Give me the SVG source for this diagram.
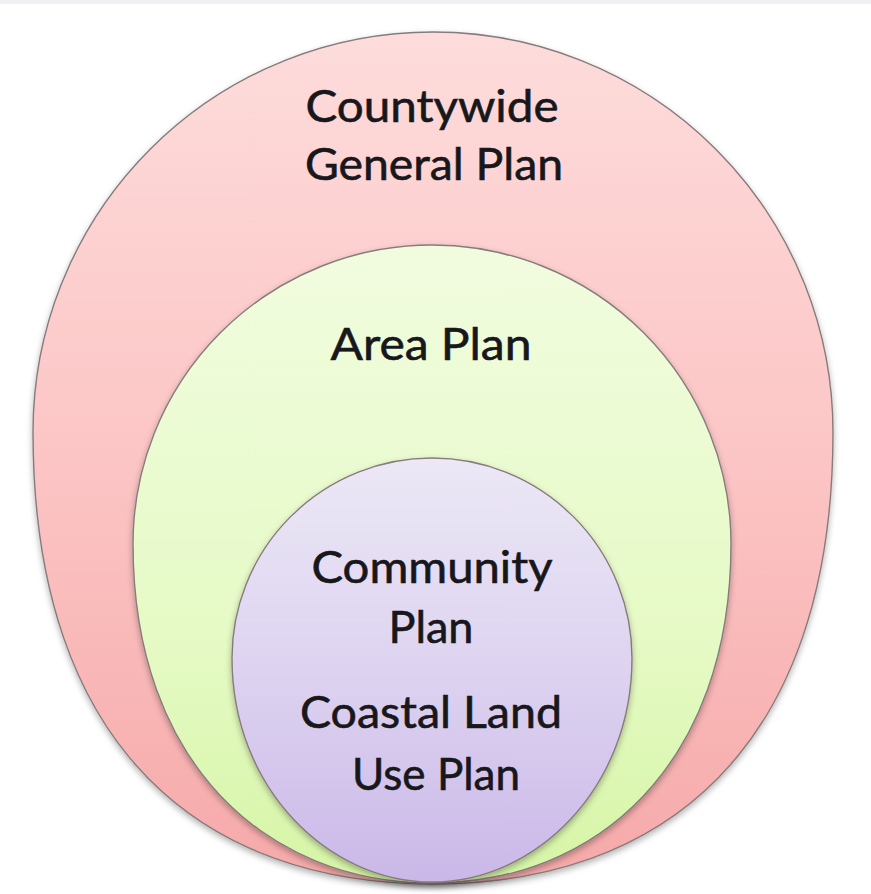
<svg xmlns="http://www.w3.org/2000/svg" width="871" height="894" viewBox="0 0 871 894">
  <style>
    .ring { stroke: #877b7b; stroke-width: 1.4; }
    .label { font-family: Lato, "Open Sans", "Liberation Sans", sans-serif; font-size: 44px; fill: #18171c; stroke: #18171c; stroke-width: 0.6; text-anchor: middle; }
  </style>
  <defs>
    <linearGradient id="gPink" x1="0" y1="0" x2="0" y2="1">
      <stop offset="0" stop-color="#fddcdb"/>
      <stop offset="0.5" stop-color="#fcc5c5"/>
      <stop offset="1" stop-color="#f6a9a9"/>
    </linearGradient>
    <linearGradient id="gGreen" x1="0" y1="0" x2="0" y2="1">
      <stop offset="0" stop-color="#f1fcdf"/>
      <stop offset="0.6" stop-color="#e6fac6"/>
      <stop offset="1" stop-color="#d6f5a6"/>
    </linearGradient>
    <linearGradient id="gPurple" x1="0" y1="0" x2="0" y2="1">
      <stop offset="0" stop-color="#ece8f6"/>
      <stop offset="0.5" stop-color="#ddd3f0"/>
      <stop offset="1" stop-color="#cab8e8"/>
    </linearGradient>
    <filter id="shadow" x="-10%" y="-10%" width="120%" height="125%">
      <feDropShadow dx="0" dy="3" stdDeviation="3" flood-color="#000" flood-opacity="0.3"/>
    </filter>
  </defs>
  <rect x="0" y="0" width="871" height="894" fill="#ffffff"/>
  <rect x="0" y="0" width="871" height="4" fill="#eef0f3"/>

  <g id="countywide-general-plan">
    <path class="ring" fill="url(#gPink)" filter="url(#shadow)" d="M 33 432 A 400 400 0 0 1 833 432 C 833 752 660 884 433 884 C 206 884 33 752 33 432 Z"/>
    <text class="label" x="432" y="122" textLength="253" lengthAdjust="spacingAndGlyphs">Countywide</text>
    <text class="label" x="434" y="180" textLength="258" lengthAdjust="spacingAndGlyphs">General Plan</text>
  </g>

  <g id="area-plan">
    <path class="ring" fill="url(#gGreen)" filter="url(#shadow)" d="M 133 544 A 299 299 0 0 1 731 544 C 731 764.4 596.5 883 432 883 C 267.5 883 133 764.4 133 544 Z"/>
    <text class="label" x="431" y="360" textLength="201" lengthAdjust="spacingAndGlyphs">Area Plan</text>
  </g>

  <g id="community-coastal-plan">
    <path class="ring" fill="url(#gPurple)" filter="url(#shadow)" d="M 232 658 A 200 200 0 0 1 632 658 C 632 788 536 882 432 882 C 328 882 232 788 232 658 Z"/>
    <text class="label" x="432" y="583" textLength="241" lengthAdjust="spacingAndGlyphs">Community</text>
    <text class="label" x="431" y="643" textLength="85" lengthAdjust="spacingAndGlyphs">Plan</text>
    <text class="label" x="431" y="728" textLength="262" lengthAdjust="spacingAndGlyphs">Coastal Land</text>
    <text class="label" x="436" y="790" textLength="168" lengthAdjust="spacingAndGlyphs">Use Plan</text>
  </g>

  <g id="connectors"/>
</svg>
